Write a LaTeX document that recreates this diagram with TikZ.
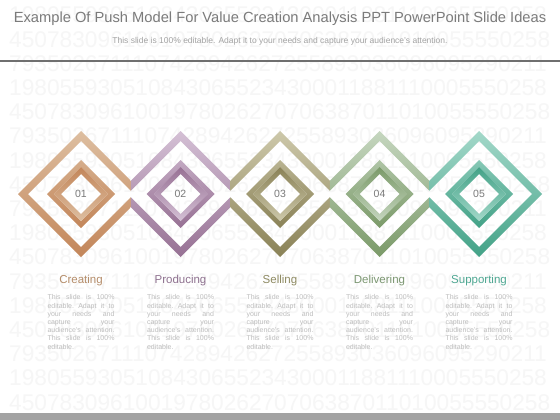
\documentclass[tikz,border=0pt]{standalone}
\usepackage{fontspec}
\setmainfont{Liberation Sans}
\usepackage{tikz}
\usetikzlibrary{positioning}
\definecolor{createtop}{HTML}{DDBEA0}
\definecolor{createbot}{HTML}{C3865A}
\definecolor{producetop}{HTML}{D4C0D5}
\definecolor{producebot}{HTML}{977194}
\definecolor{selltop}{HTML}{CDC8AA}
\definecolor{sellbot}{HTML}{8A8257}
\definecolor{delivertop}{HTML}{C5D6BF}
\definecolor{deliverbot}{HTML}{7B9A69}
\definecolor{supporttop}{HTML}{A3D8C9}
\definecolor{supportbot}{HTML}{43A287}
\definecolor{createtext}{HTML}{B58D6A}
\definecolor{producetext}{HTML}{8F7290}
\definecolor{selltext}{HTML}{8E8A62}
\definecolor{delivertext}{HTML}{7C9772}
\definecolor{supporttext}{HTML}{4EA792}
\definecolor{titlegray}{HTML}{7B7B7B}
\definecolor{subgray}{HTML}{A3A3A3}
\definecolor{numgray}{HTML}{7A7A7A}
\definecolor{descgray}{HTML}{BDBDBD}
\definecolor{rulegray}{HTML}{6F6F6F}
\definecolor{bargray}{HTML}{A3A3A3}

% one step: centre x, left cut, right cut, light colour, dark colour
\newcommand{\ringstep}[5]{%
  \begin{scope}
    \clip (#2,100) rectangle (#3,290);
    \shade[top color=#4, bottom color=#5, even odd rule]
      (#1-63,194) -- (#1,131) -- (#1+63,194) -- (#1,257) -- cycle
      (#1-53,194) -- (#1,141) -- (#1+53,194) -- (#1,247) -- cycle;
  \end{scope}
  \shade[top color=#4!70!#5, bottom color=#5, even odd rule]
    (#1-34,194) -- (#1,160) -- (#1+34,194) -- (#1,228) -- cycle
    (#1-27,194) -- (#1,167) -- (#1+27,194) -- (#1,221) -- cycle;
  \shade[top color=#5, bottom color=#4, even odd rule]
    (#1-27,194) -- (#1,167) -- (#1+27,194) -- (#1,221) -- cycle
    (#1-20,194) -- (#1,174) -- (#1+20,194) -- (#1,214) -- cycle;}

% justified line of a step text
\newcommand{\jline}[1]{\hbox to 67pt{#1}}
\newcommand{\desctext}{%
  \jline{This\hfill slide\hfill is\hfill 100\%}
  \jline{editable.\hfill Adapt\hfill it\hfill to}
  \jline{your\hfill needs\hfill and}
  \jline{capture\hfill your}
  \jline{audience's\hfill attention.}
  \jline{This\hfill slide\hfill is\hfill 100\%}
  \jline{editable.\hfill}}

\begin{document}
\begin{tikzpicture}[
    x=1pt, y=-1pt,
    watermark/.style={anchor=west, inner sep=0, font=\fontsize{22.7}{24}\selectfont, text=black!3.5},
    numlabel/.style={inner sep=0, font=\fontsize{10.5}{12}\selectfont, text=numgray},
    steptitle/.style={inner sep=0, font=\fontsize{11.5}{13}\selectfont},
    stepdesc/.style={inner sep=0, text width=67pt, font=\fontsize{7}{8.23}\selectfont, text=descgray}
]
\useasboundingbox (0,0) rectangle (560,420);
\fill[white] (0,0) rectangle (560,420);

% Background digits
\foreach \y [count=\k] in {15,87.6,160.2,232.8,305.4,378}
  \node[watermark] (wma\k) at (9,\y) {1980559305108430655234300011881110005550258};
\foreach \y [count=\k] in {39.2,111.8,184.4,257,329.6,402.2}
  \node[watermark] (wmb\k) at (9,\y) {4507830961001978026270706387011010055550258};
\foreach \y [count=\k] in {63.4,136,208.6,281.2,353.8}
  \node[watermark] (wmc\k) at (9,\y) {7935026711107428942627255893036096095290211};

% Header
\node[font=\fontsize{14.7}{17}\selectfont, text=titlegray] (title) at (280,19)
  {Example Of Push Model For Value Creation Analysis PPT PowerPoint Slide Ideas};
\node[font=\fontsize{8.5}{10}\selectfont, text=subgray] (subtitle) at (280,41)
  {This slide is 100\% editable. Adapt it to your needs and capture your audience's attention.};
\draw[rulegray, line width=2pt] (0,61) -- (560,61);
\fill[bargray] (0,413) rectangle (560,420);

% Diamonds
\ringstep{81}{0}{130.75}{createtop}{createbot}
\ringstep{180.5}{130.75}{230.25}{producetop}{producebot}
\ringstep{280}{230.25}{329.75}{selltop}{sellbot}
\ringstep{379.5}{329.75}{429.25}{delivertop}{deliverbot}
\ringstep{479}{429.25}{560}{supporttop}{supportbot}

% Step numbers
\node[numlabel] (num1) at (81,194) {01};
\node[numlabel] (num2) at (180.5,194) {02};
\node[numlabel] (num3) at (280,194) {03};
\node[numlabel] (num4) at (379.5,194) {04};
\node[numlabel] (num5) at (479,194) {05};

% Step titles and texts
\node[steptitle, text=createtext] (creating) at (81,281) {Creating};
\node[stepdesc, below=8pt of creating] (creatingdesc) {\desctext};
\node[steptitle, text=producetext] (producing) at (180.5,281) {Producing};
\node[stepdesc, below=8pt of producing] (producingdesc) {\desctext};
\node[steptitle, text=selltext] (selling) at (280,281) {Selling};
\node[stepdesc, below=8pt of selling] (sellingdesc) {\desctext};
\node[steptitle, text=delivertext] (delivering) at (379.5,281) {Delivering};
\node[stepdesc, below=8pt of delivering] (deliveringdesc) {\desctext};
\node[steptitle, text=supporttext] (supporting) at (479,281) {Supporting};
\node[stepdesc, below=8pt of supporting] (supportingdesc) {\desctext};

\end{tikzpicture}
\end{document}
